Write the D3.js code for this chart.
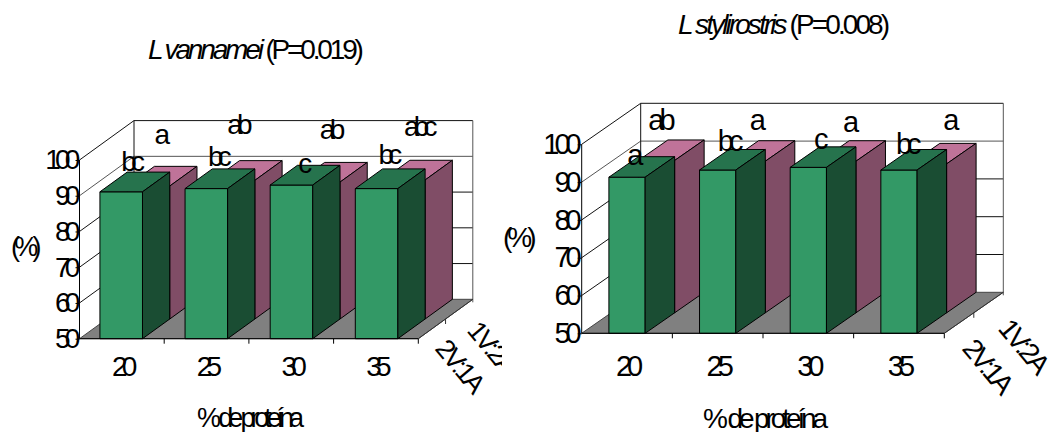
<!DOCTYPE html>
<html><head><meta charset="utf-8">
<script src="https://cdn.jsdelivr.net/npm/d3@7/dist/d3.min.js"></script>
<style>
html,body{margin:0;padding:0;background:#fff}
svg{display:block}
text{font-family:"Liberation Sans",Arial,sans-serif;fill:#000}
</style></head><body><svg id="c" width="1048" height="432"></svg>
<script>
const categories = ["20","25","30","35"];
const seriesNames = ["2V:1A","1V:2A"];
const yTicks = [50,60,70,80,90,100];
const vannamei2V1A = [91.1,92,93,92];
const vannamei1V2A = [87.2,88.8,88.3,88.9];
const stylirostris2V1A = [91.3,93.2,93.9,93.2];
const stylirostris1V2A = [90.3,90.1,90.1,89.4];
const vannameiLetters2V1A = ["bc","bc","c","bc"];
const vannameiLetters1V2A = ["a","ab","ab","abc"];
const stylirostrisLetters2V1A = ["a","bc","c","bc"];
const stylirostrisLetters1V2A = ["ab","a","a","a"];

const layouts = [{
  id:"a", species:"L vannamei", p:" (P=0.019)",
  x0:79.5, x1:418.3, yBase:338.7, yTop:160, dx:54.5, dy:39.4, inner:0.5, outer:0.24,
  fs:28, ls:-5.8, clip:[0,0,502,432],
  values:[vannamei2V1A,vannamei1V2A], letters:[vannameiLetters2V1A,vannameiLetters1V2A],
  nudge:[[[-4.5,-11],[-3,-13],[-2.7,-2.5],[-2.7,-15]],[[-2.7,-32],[-10.3,-36],[-2.7,-33],[0.3,-34]]],
  title:{x:148,y:59,fs:28,ls:-3.15}, xTitle:{x:197,y:427,fs:27,ls:-5.1},
  yTitle:{x:11,y:256,fs:27,ls:-5.7}, catY:376.5,
  depth:[{x:434,y:349},{x:466,y:331}], depthFs:27, depthLs:-2.9
},{
  id:"b", species:"L stylirostris", p:" (P=0.008)",
  x0:581.7, x1:944.3, yBase:333.3, yTop:144.3, dx:59, dy:41, inner:0.6, outer:0.3,
  fs:29, ls:-5, clip:[502,0,546,432],
  values:[stylirostris2V1A,stylirostris1V2A], letters:[stylirostrisLetters2V1A,stylirostrisLetters1V2A],
  nudge:[[[-9,-2],[-4.3,-9],[-4.3,-8],[-7.5,-6]],[[-11.8,-20],[-6.5,-21],[-4,-19],[5.5,-24]]],
  title:{x:678,y:34,fs:28,ls:-2.9}, xTitle:{x:703,y:427.5,fs:28,ls:-4.1},
  yTitle:{x:503,y:247,fs:28,ls:-5}, catY:376,
  depth:[{x:961,y:349},{x:997,y:329}], depthFs:28, depthLs:-3.2
}];

const colors = [
  {front:"#339966",top:"#26734d",side:"#1a4d33"},
  {front:"#ff99cc",top:"#bf7399",side:"#804d66"}
];

const svg = d3.select("#c");
const defs = svg.append("defs");

layouts.forEach(L=>{
  defs.append("clipPath").attr("id","clip"+L.id).append("rect")
    .attr("x",L.clip[0]).attr("y",L.clip[1]).attr("width",L.clip[2]).attr("height",L.clip[3]);
  const g = svg.append("g").attr("clip-path",`url(#clip${L.id})`);
  const x = d3.scaleBand().domain(categories).range([L.x0,L.x1]);
  const bar = d3.scaleBand().domain(categories).range([L.x0,L.x1]).paddingInner(L.inner).paddingOuter(L.outer);
  const y = d3.scaleLinear().domain([50,100]).range([L.yBase,L.yTop]);
  const z = d3.scaleBand().domain(seriesNames).range([0,1]);
  const P = (px,v,d)=>[px+d*L.dx, y(v)-d*L.dy];
  const poly = pts=>pts.map(p=>p.join(",")).join(" ");
  const backX0=L.x0+L.dx, backX1=L.x1+L.dx;

  g.append("polygon").attr("points",poly([P(L.x0,50,0),P(L.x0,100,0),P(L.x0,100,1),P(L.x1,100,1),P(L.x1,50,1),P(L.x0,50,1)])).attr("fill","#fff");
  yTicks.forEach(t=>{
    if(t===50) return;
    g.append("polyline").attr("points",poly([P(L.x0,t,0),P(L.x0,t,1),P(L.x1,t,1)]))
      .attr("fill","none").attr("stroke",t===90?"#555":"#111").attr("stroke-width",1);
  });
  g.append("line").attr("x1",backX0).attr("x2",backX0).attr("y1",y(100)-L.dy).attr("y2",y(50)-L.dy).attr("stroke","#111");
  g.append("line").attr("x1",backX1).attr("x2",backX1).attr("y1",y(100)-L.dy).attr("y2",y(50)-L.dy+3).attr("stroke","#555");
  g.append("polygon").attr("points",poly([P(L.x0,50,0),P(L.x1,50,0),P(L.x1,50,1),P(L.x0,50,1)]))
    .attr("fill","#808080").attr("stroke","#444").attr("stroke-width",1);

  [1,0].forEach(si=>{
    const name = seriesNames[si];
    const d0=z(name), d1=d0+z.bandwidth();
    const c = colors[si];
    categories.forEach((cat,i)=>{
      const v=L.values[si][i], a=bar(cat), b=a+bar.bandwidth();
      const bg=g.append("g").attr("stroke","#000").attr("stroke-width",1).attr("stroke-linejoin","round");
      bg.append("polygon").attr("points",poly([P(a,50,d0),P(b,50,d0),P(b,v,d0),P(a,v,d0)])).attr("fill",c.front);
      bg.append("polygon").attr("points",poly([P(a,v,d0),P(b,v,d0),P(b,v,d1),P(a,v,d1)])).attr("fill",c.top);
      bg.append("polygon").attr("points",poly([P(b,50,d0),P(b,50,d1),P(b,v,d1),P(b,v,d0)])).attr("fill",c.side);
    });
  });

  const ay = g.append("g").attr("transform",`translate(${L.x0},0)`)
    .call(d3.axisLeft(y).tickValues(yTicks).tickSize(4).tickPadding(1));
  ay.select(".domain").attr("stroke","#000").attr("d",`M0,${y(100)}V${y(50)}`);
  ay.selectAll("line").attr("stroke","#000");
  ay.selectAll("text").attr("font-size",L.fs).style("letter-spacing",L.ls+"px")
    .style("font-family",'"Liberation Sans",Arial,sans-serif').attr("fill","#000");

  const ax = g.append("g").attr("transform",`translate(0,${L.yBase})`)
    .call(d3.axisBottom(x).tickSize(0).tickPadding(0));
  ax.select(".domain").attr("stroke","#000").attr("d",`M${L.x0},0H${L.x1}`);
  ax.selectAll("text").attr("font-size",L.fs).attr("y",L.catY-L.yBase).attr("dy",0).style("letter-spacing",L.ls+"px")
    .style("font-family",'"Liberation Sans",Arial,sans-serif').attr("fill","#000");
  categories.forEach((c,i)=>{
    const px = L.x0+(i+1)*x.bandwidth();
    g.append("line").attr("x1",px).attr("x2",px).attr("y1",L.yBase).attr("y2",L.yBase+5).attr("stroke","#000");
  });
  g.append("line").attr("x1",L.x1).attr("y1",L.yBase).attr("x2",backX1).attr("y2",L.yBase-L.dy).attr("stroke","#333");
  const pm=P(L.x1,50,0.5);
  g.append("line").attr("x1",pm[0]).attr("x2",pm[0]).attr("y1",pm[1]).attr("y2",pm[1]+5).attr("stroke","#333");

  [1,0].forEach(si=>{
    const name=seriesNames[si], dm=z(name)+z.bandwidth()/2;
    categories.forEach((cat,i)=>{
      const v=L.values[si][i];
      const p=P(bar(cat)+bar.bandwidth()/2,v,dm);
      const n=L.nudge[si][i];
      g.append("text").attr("x",p[0]+n[0]).attr("y",p[1]+n[1]).attr("text-anchor","middle")
        .attr("font-size",L.fs).style("letter-spacing",L.ls+"px").text(L.letters[si][i]);
    });
  });

  [0,1].forEach(si=>{
    const d=L.depth[si];
    g.append("text").attr("transform",`translate(${d.x},${d.y}) rotate(50)`)
      .attr("font-size",L.depthFs).style("letter-spacing",L.depthLs+"px").text(seriesNames[si]);
  });

  const t=svg.append("text").attr("x",L.title.x).attr("y",L.title.y).attr("font-size",L.title.fs).style("letter-spacing",L.title.ls+"px");
  t.append("tspan").attr("font-style","italic").text(L.species);
  t.append("tspan").text(L.p);
  svg.append("text").attr("x",L.xTitle.x).attr("y",L.xTitle.y).attr("font-size",L.xTitle.fs).style("letter-spacing",L.xTitle.ls+"px").text("% de proteína");
  svg.append("text").attr("x",L.yTitle.x).attr("y",L.yTitle.y).attr("font-size",L.yTitle.fs).style("letter-spacing",L.yTitle.ls+"px").text("(%)");
});
</script></body></html>
